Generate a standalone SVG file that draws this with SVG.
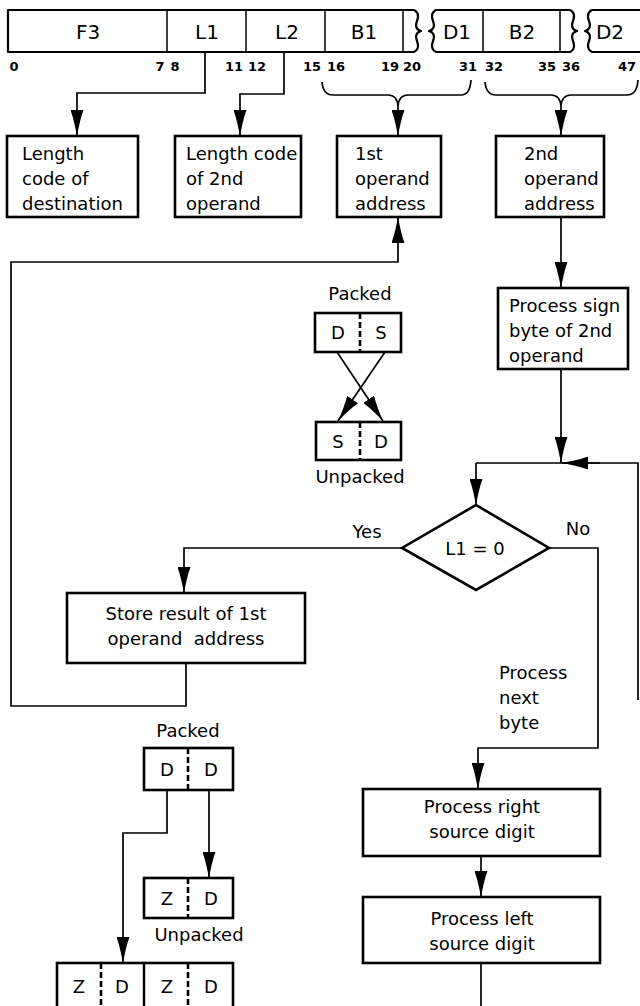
<svg xmlns="http://www.w3.org/2000/svg" width="640" height="1006" viewBox="0 0 640 1006">
  <defs>
    <marker id="arrow" markerUnits="userSpaceOnUse" viewBox="0 0 26 13" markerWidth="26" markerHeight="13" refX="26" refY="6.5" orient="auto">
      <path d="M0,0 C8,3 18,5 26,6.5 C18,8 8,10 0,13 Z" fill="#000"/>
    </marker>
    <style>
      text { font-family: "DejaVu Sans", "Liberation Sans", sans-serif; fill: #000; }
      .t { font-size: 18px; }
      .c { text-anchor: middle; }
      .fld { font-size: 20px; text-anchor: middle; }
      .bit { font-size: 13px; font-weight: bold; text-anchor: middle; }
      .box { fill: #fff; stroke: #000; stroke-width: 2.6; }
      .frame { fill: none; stroke: #000; stroke-width: 2.2; stroke-linejoin: round; }
      .div { stroke: #000; stroke-width: 1.5; }
      .dash { stroke: #000; stroke-width: 2.6; stroke-dasharray: 6 3; }
      .ln { fill: none; stroke: #000; stroke-width: 1.7; }
      .arr { fill: none; stroke: #000; stroke-width: 1.7; marker-end: url(#arrow); }
    </style>
  </defs>
  <rect width="640" height="1006" fill="#fff"/>

  <!-- instruction format: F3 L1 L2 B1 | D1 B2 | D2 -->
  <g id="format">
    <path class="frame" d="M414,10 H8 V52 H414 M414,10 Q420,13 417,21 Q414,29 421,31 Q414,33 417,41 Q420,49 414,52"/>
    <path class="frame" d="M436,10 H570 Q576,13 573,21 Q570,29 577,31 Q570,33 573,41 Q576,49 570,52 H436 Q430,49 433,41 Q436,33 429,31 Q436,29 433,21 Q430,13 436,10 Z"/>
    <path class="frame" d="M643,10 H592 Q586,13 589,21 Q592,29 585,31 Q592,33 589,41 Q586,49 592,52 H643"/>
    <line class="div" x1="167" y1="10" x2="167" y2="52"/>
    <line class="div" x1="246" y1="10" x2="246" y2="52"/>
    <line class="div" x1="325" y1="10" x2="325" y2="52"/>
    <line class="div" x1="403" y1="10" x2="403" y2="52"/>
    <line class="div" x1="483" y1="10" x2="483" y2="52"/>
    <line class="div" x1="560" y1="10" x2="560" y2="52"/>
    <text class="fld" x="88" y="39">F3</text>
    <text class="fld" x="207" y="39">L1</text>
    <text class="fld" x="287" y="39">L2</text>
    <text class="fld" x="364" y="39">B1</text>
    <text class="fld" x="457" y="39">D1</text>
    <text class="fld" x="522" y="39">B2</text>
    <text class="fld" x="610" y="39">D2</text>
    <text class="bit" x="14" y="71">0</text>
    <text class="bit" x="160" y="71">7</text>
    <text class="bit" x="175" y="71">8</text>
    <text class="bit" x="234" y="71">11</text>
    <text class="bit" x="257" y="71">12</text>
    <text class="bit" x="312" y="71">15</text>
    <text class="bit" x="336" y="71">16</text>
    <text class="bit" x="390" y="71">19</text>
    <text class="bit" x="412" y="71">20</text>
    <text class="bit" x="468" y="71">31</text>
    <text class="bit" x="494" y="71">32</text>
    <text class="bit" x="547" y="71">35</text>
    <text class="bit" x="571" y="71">36</text>
    <text class="bit" x="627" y="71">47</text>
  </g>

  <g id="len-dest">
    <rect class="box" x="7" y="136" width="131" height="81"/>
    <text class="t" x="22" y="160">Length</text>
    <text class="t" x="22" y="185">code of</text>
    <text class="t" x="22" y="210">destination</text>
  </g>
  <g id="len-2nd">
    <rect class="box" x="175" y="136" width="126" height="81"/>
    <text class="t" x="186" y="160">Length code</text>
    <text class="t" x="186" y="185">of 2nd</text>
    <text class="t" x="186" y="210">operand</text>
  </g>
  <g id="op1-addr">
    <rect class="box" x="337" y="136" width="104" height="81"/>
    <text class="t" x="355" y="160">1st</text>
    <text class="t" x="355" y="185">operand</text>
    <text class="t" x="355" y="210">address</text>
  </g>
  <g id="op2-addr">
    <rect class="box" x="496" y="136" width="108" height="81"/>
    <text class="t" x="524" y="160">2nd</text>
    <text class="t" x="524" y="185">operand</text>
    <text class="t" x="524" y="210">address</text>
  </g>

  <g id="sign-byte">
    <rect class="box" x="498" y="288" width="130" height="81"/>
    <text class="t" x="509" y="312">Process sign</text>
    <text class="t" x="509" y="337">byte of 2nd</text>
    <text class="t" x="509" y="362">operand</text>
  </g>

  <!-- packed / unpacked sign byte -->
  <g id="sign-format">
    <text class="t c" x="360" y="300">Packed</text>
    <rect class="box" x="315" y="313" width="86" height="39"/>
    <line class="dash" x1="360" y1="313" x2="360" y2="352"/>
    <text class="t c" x="338" y="339">D</text>
    <text class="t c" x="381" y="339">S</text>
    <rect class="box" x="316" y="422" width="85" height="38"/>
    <line class="dash" x1="360" y1="422" x2="360" y2="460"/>
    <text class="t c" x="338" y="448">S</text>
    <text class="t c" x="381" y="448">D</text>
    <text class="t c" x="360" y="483">Unpacked</text>
  </g>

  <g id="decision">
    <polygon class="box" points="476,505 549,548 476,590 402,548"/>
    <text class="t c" x="475" y="555">L1 = 0</text>
  </g>

  <g id="store">
    <rect class="box" x="67" y="593" width="238" height="70"/>
    <text class="t c" x="186" y="620">Store result of 1st</text>
    <text class="t c" x="186" y="645" xml:space="preserve">operand  address</text>
  </g>

  <g id="right-digit">
    <rect class="box" x="363" y="789" width="237" height="67"/>
    <text class="t c" x="482" y="813">Process right</text>
    <text class="t c" x="482" y="838">source digit</text>
  </g>
  <g id="left-digit">
    <rect class="box" x="363" y="897" width="237" height="66"/>
    <text class="t c" x="482" y="925">Process left</text>
    <text class="t c" x="482" y="950">source digit</text>
  </g>

  <!-- packed / unpacked digit bytes -->
  <g id="digit-format">
    <text class="t c" x="188" y="737">Packed</text>
    <rect class="box" x="144" y="748" width="89" height="42"/>
    <line class="dash" x1="188" y1="748" x2="188" y2="790"/>
    <text class="t c" x="167" y="776">D</text>
    <text class="t c" x="211" y="776">D</text>
    <rect class="box" x="144" y="878" width="89" height="40"/>
    <line class="dash" x1="188" y1="878" x2="188" y2="918"/>
    <text class="t c" x="167" y="905">Z</text>
    <text class="t c" x="211" y="905">D</text>
    <text class="t c" x="199" y="941">Unpacked</text>
    <rect class="box" x="57" y="963" width="176" height="60"/>
    <line class="dash" x1="101" y1="963" x2="101" y2="1010"/>
    <line class="div" x1="144" y1="963" x2="144" y2="1010" style="stroke-width:2.4"/>
    <line class="dash" x1="188" y1="963" x2="188" y2="1010"/>
    <text class="t c" x="79" y="993">Z</text>
    <text class="t c" x="122" y="993">D</text>
    <text class="t c" x="167" y="993">Z</text>
    <text class="t c" x="211" y="993">D</text>
  </g>

  <g id="connectors">
    <path class="arr" d="M205,52 V93 H77 V136"/>
    <path class="arr" d="M284,52 V94 H240 V136"/>
    <path class="ln" d="M322,82 Q323,95 333,95 H388 Q397,95 398,106 Q399,95 408,95 H461 Q470,95 471,80"/>
    <path class="arr" d="M398,106 V136"/>
    <path class="ln" d="M485,82 Q486,95 496,95 H551 Q560,95 561,106 Q562,95 571,95 H627 Q637,95 638,80"/>
    <path class="arr" d="M561,106 V136"/>
    <path class="arr" d="M561,217 V288"/>
    <path class="arr" d="M561,369 V463"/>
    <path class="arr" d="M337,352 L383,421"/>
    <path class="arr" d="M385,352 L338,421"/>
    <path class="ln" d="M638,700 V463 H476"/>
    <path class="arr" d="M600,463 H562"/>
    <path class="arr" d="M476,463 V505"/>
    <path class="arr" d="M402,548 H184 V593"/>
    <text class="t c" x="367" y="538">Yes</text>
    <text class="t c" x="578" y="535">No</text>
    <path class="arr" d="M186,663 V706 H11 V262 H398 V217"/>
    <path class="arr" d="M549,548 H598 V748 H478 V789"/>
    <text class="t" x="499" y="679">Process</text>
    <text class="t" x="499" y="704">next</text>
    <text class="t" x="499" y="729">byte</text>
    <path class="arr" d="M481,856 V897"/>
    <path class="ln" d="M481,963 V1006"/>
    <path class="arr" d="M167,790 V833 H123 V963"/>
    <path class="arr" d="M209,790 V878"/>
  </g>
</svg>
